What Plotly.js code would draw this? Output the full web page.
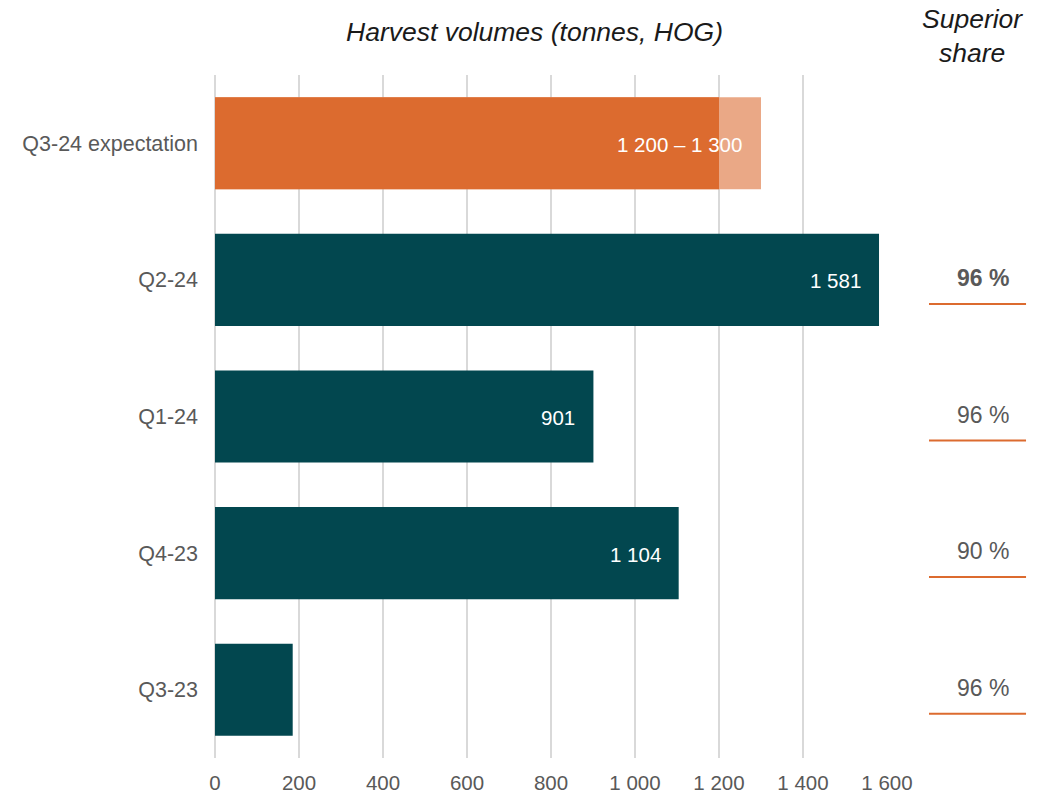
<!DOCTYPE html>
<html>
<head>
<meta charset="utf-8">
<script src="https://cdn.plot.ly/plotly-3.0.1.min.js"></script>
<style>
  html, body { margin: 0; padding: 0; background: #ffffff; }
  #chart { width: 1046px; height: 793px; }
</style>
</head>
<body>
<div id="chart"></div>
<script>
// Quarterly harvest volumes (tonnes, HOG), newest at the top
const categories = ['Q3-24 expectation', 'Q2-24', 'Q1-24', 'Q4-23', 'Q3-23'];
const harvestActual = [null, 1581, 901, 1104, 185];
const expectationLow = 1200;
const expectationHigh = 1300;
const superiorShare = [null, 96, 96, 90, 96];
const boldShareCategory = 'Q2-24';
const xTickValues = [0, 200, 400, 600, 800, 1000, 1200, 1400, 1600];

const FONT = 'Liberation Sans, Arial, sans-serif';
const GREY = '#595959';
const TEAL = '#02474F';
const ORANGE = '#DC6B2F';
const ORANGE_LIGHT = '#EAA886';

// Numbers with a space as thousands separator
const fmt = v => String(v).replace(/\B(?=(\d{3})+(?!\d))/g, ' ');

const expCat = categories[0];

const traces = [
  {
    type: 'bar', orientation: 'h',
    y: [expCat], x: [expectationHigh],
    marker: { color: ORANGE_LIGHT },
    hoverinfo: 'skip', showlegend: false
  },
  {
    type: 'bar', orientation: 'h',
    y: [expCat], x: [expectationLow],
    marker: { color: ORANGE },
    hoverinfo: 'skip', showlegend: false
  },
  {
    type: 'bar', orientation: 'h',
    y: categories, x: harvestActual,
    marker: { color: TEAL },
    hoverinfo: 'skip', showlegend: false
  }
];

const annotations = [];

// Value labels inside the bar ends (too-short bars left unlabelled)
categories.forEach((c, i) => {
  const v = harvestActual[i];
  if (v != null && v >= 300) {
    annotations.push({
      x: v, y: c, xref: 'x', yref: 'y',
      text: fmt(v), showarrow: false,
      xanchor: 'right', yanchor: 'middle', xshift: -16, yshift: -1,
      font: { family: FONT, size: 20.5, color: '#ffffff' }
    });
  }
});
annotations.push({
  x: expectationHigh, y: expCat, xref: 'x', yref: 'y',
  text: fmt(expectationLow) + ' \u2013 ' + fmt(expectationHigh), showarrow: false,
  xanchor: 'right', yanchor: 'middle', xshift: -17, yshift: -1,
  font: { family: FONT, size: 20.5, color: '#ffffff' }
});

// Chart heading and right-hand column heading
annotations.push({
  x: 0.476, y: 1.063, xref: 'paper', yref: 'paper',
  text: '<i>Harvest volumes (tonnes, HOG)</i>', showarrow: false,
  xanchor: 'center', yanchor: 'middle',
  font: { family: FONT, size: 26.5, color: '#1a1a1a' }
});
annotations.push({
  x: 1.1266, y: 1.057, xref: 'paper', yref: 'paper',
  text: '<i>Superior<br>share</i>', showarrow: false,
  xanchor: 'center', yanchor: 'middle',
  font: { family: FONT, size: 26.5, color: '#1a1a1a' }
});

// Superior share column with orange underlines
const shapes = [];
categories.forEach((c, i) => {
  const s = superiorShare[i];
  if (s == null) return;
  const label = s + ' %';
  annotations.push({
    x: 1.1846, y: c, xref: 'paper', yref: 'y',
    text: c === boldShareCategory ? '<b>' + label + '</b>' : label,
    showarrow: false, xanchor: 'right', yanchor: 'middle', yshift: 2,
    font: { family: FONT, size: 23, color: GREY }
  });
  shapes.push({
    type: 'line', xref: 'paper', yref: 'y',
    ysizemode: 'pixel', yanchor: i,
    x0: 1.0625, x1: 1.2069, y0: -24, y1: -24,
    line: { color: ORANGE, width: 2 }
  });
});

const layout = {
  width: 1046, height: 793,
  margin: { l: 215, r: 159, t: 75, b: 35, pad: 0 },
  paper_bgcolor: '#ffffff', plot_bgcolor: '#ffffff',
  barmode: 'overlay',
  bargap: 0.326,
  showlegend: false,
  font: { family: FONT, color: GREY },
  xaxis: {
    range: [0, 1600],
    tickvals: xTickValues,
    ticktext: xTickValues.map(fmt),
    tickfont: { family: FONT, size: 20.5, color: GREY },
    showgrid: true, gridcolor: '#D9D9D9', gridwidth: 2,
    zeroline: true, zerolinecolor: '#D9D9D9', zerolinewidth: 2,
    showline: false, ticks: '', ticklabelstandoff: 10,
    fixedrange: true
  },
  yaxis: {
    type: 'category',
    categoryorder: 'array', categoryarray: categories,
    autorange: 'reversed',
    tickfont: { family: FONT, size: 21.5, color: GREY },
    showgrid: false, zeroline: false, showline: false,
    ticks: '', ticklabelstandoff: 16,
    fixedrange: true
  },
  annotations: annotations,
  shapes: shapes
};

Plotly.newPlot('chart', traces, layout, { displayModeBar: false, staticPlot: true });
</script>
</body>
</html>
